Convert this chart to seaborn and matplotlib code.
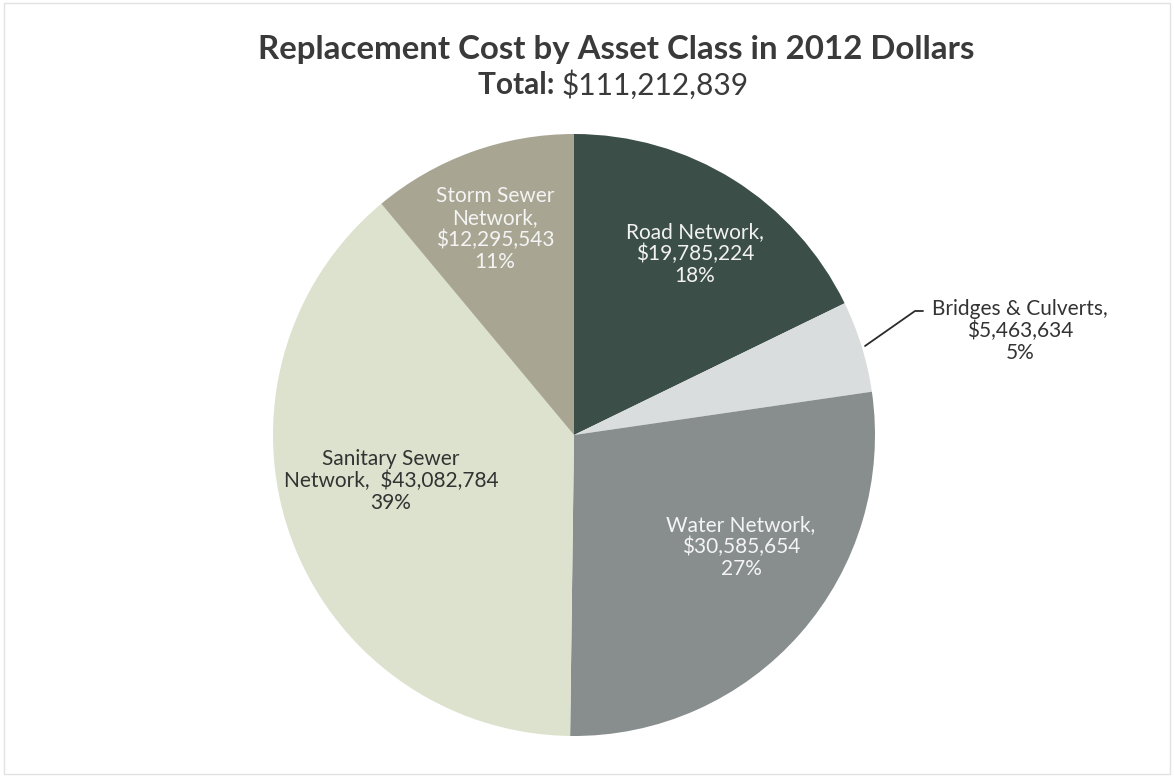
import matplotlib
matplotlib.use("Agg")
import matplotlib.pyplot as plt
from matplotlib.patches import Rectangle
from matplotlib.transforms import Affine2D
import seaborn as sns

# Asset classes, clockwise from twelve o'clock
assets = ["Road Network", "Bridges & Culverts", "Water Network",
          "Sanitary Sewer Network", "Storm Sewer Network"]
costs = [19785224, 5463634, 30585654, 43082784, 12295543]
pct_labels = [18, 5, 27, 39, 11]

colors = ["#3b4e47", "#dadddd", "#888e8e", "#dce2cd", "#a8a692"]
text_colors = ["#f2f2f2", "#333333", "#f4f4f4", "#333333", "#f4f4f4"]

# label text layout (line breaks as set in the chart)
label_lines = [
    ["Road Network,", "${cost}", "{pct}%"],
    ["Bridges & Culverts,", "${cost}", "{pct}%"],
    ["Water Network,", "${cost}", "{pct}%"],
    ["Sanitary Sewer", "Network,  ${cost}", "{pct}%"],
    ["Storm Sewer", "Network,", "${cost}", "{pct}%"],
]
# label centres in figure pixels (x from left, y from top)
label_pos = [(695, 254), (1020, 331), (741, 547), (391, 481), (495, 229)]

W, H = 1174, 777
sns.set_theme(style="white")
plt.rcParams["font.family"] = ["Lato", "DejaVu Sans"]

fig = plt.figure(figsize=(W / 100, H / 100), dpi=100)
fig.patch.set_facecolor("white")
ax = fig.add_axes([0, 0, 1, 1])

cx, cy, r = 574, 435, 301
total = sum(costs)

wedges, _ = ax.pie(costs, colors=colors, startangle=90, counterclock=False,
                   radius=r, center=(cx, cy), frame=True,
                   wedgeprops=dict(linewidth=0, antialiased=True))
# the axis runs y-down, so mirror wedges about the centre to keep them clockwise from the top
flip = Affine2D().translate(-cx, -cy).scale(1, -1).translate(cx, cy)
for w in wedges:
    w.set_transform(flip + ax.transData)
ax.set_xlim(0, W)
ax.set_ylim(H, 0)
ax.set_aspect("equal")
ax.axis("off")

for i, name in enumerate(assets):
    txt = "\n".join(l.format(cost=f"{costs[i]:,}", pct=pct_labels[i]) for l in label_lines[i])
    x, y = label_pos[i]
    ax.text(x, y, txt, ha="center", va="center", fontsize=15,
            color=text_colors[i], linespacing=1.12, multialignment="center")

# leader line for the small slice
ax.plot([865, 915, 923], [346, 311, 311], color="#2b2b2b", lw=1.3)

# title
ax.text(616, 49, "Replacement Cost by Asset Class in 2012 Dollars",
        ha="center", va="center", fontsize=23.8, fontweight="bold", color="#3a3a3a")

renderer = fig.canvas.get_renderer()
t1 = ax.text(0, 85, "Total: ", ha="left", va="center", fontsize=21.5,
             fontweight="bold", color="#3a3a3a")
t2 = ax.text(0, 85, f"${total:,}", ha="left", va="center", fontsize=21.5,
             color="#3a3a3a")
w1 = t1.get_window_extent(renderer).width
w2 = t2.get_window_extent(renderer).width
x0 = 613 - (w1 + w2) / 2
t1.set_x(x0)
t2.set_x(x0 + w1)

# faint page frame
ax.add_patch(Rectangle((4, 3), W - 8, H - 6, fill=False, ec="#e2e2e2", lw=1))

fig.savefig("out.png", dpi=100, facecolor="white")
